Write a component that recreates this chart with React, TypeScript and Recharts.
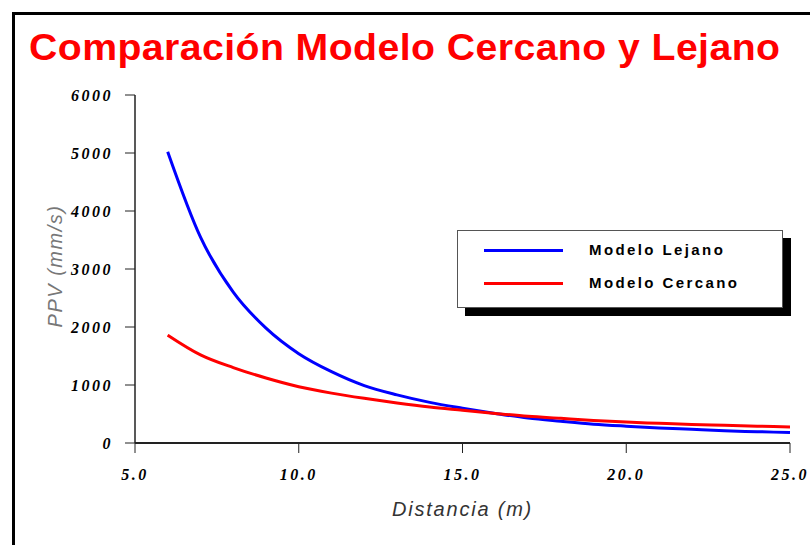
import React from "react";
import { LineChart, Line, XAxis, YAxis, Legend } from "recharts";

// distances (m) and PPV (mm/s)
const distancias = [6, 7, 8, 9, 10, 11, 12, 13, 14, 15, 16, 17, 18, 19, 20, 21, 22, 23, 24, 25];
const ppvLejano = [5020, 3550, 2600, 1980, 1540, 1230, 990, 830, 700, 600, 510, 430, 375, 325, 290, 260, 235, 210, 195, 180];
const ppvCercano = [1860, 1520, 1300, 1120, 970, 860, 770, 690, 620, 565, 510, 460, 425, 390, 360, 340, 320, 305, 290, 275];

const seriesOrder = ["Modelo Lejano", "Modelo Cercano"];
const xTicks = [5, 10, 15, 20, 25];
const yTicks = [0, 1000, 2000, 3000, 4000, 5000, 6000];

const data = distancias.map((d, i) => ({
  d,
  lejano: ppvLejano[i],
  cercano: ppvCercano[i],
}));

const tickFont = {
  fontFamily: "'Liberation Serif', serif",
  fontStyle: "italic",
  fontWeight: 700,
  fontSize: 16,
  letterSpacing: 2.5,
  fill: "#000",
};

const LegendBox = ({ payload }: any) => {
  const items = [...(payload || [])].sort(
    (a: any, b: any) => seriesOrder.indexOf(a.value) - seriesOrder.indexOf(b.value)
  );
  return (
    <div style={{ position: "relative", width: 326, height: 78 }}>
      <div
        style={{
          position: "absolute",
          left: 8,
          top: 8,
          width: 326,
          height: 78,
          background: "#000",
        }}
      />
      <div
        style={{
          position: "absolute",
          left: 0,
          top: 0,
          width: 324,
          height: 76,
          background: "#fff",
          border: "1px solid #555",
        }}
      >
        {items.map((p: any, i: number) => (
          <div
            key={p.value}
            style={{
              position: "absolute",
              left: 26,
              top: 9 + i * 33,
              display: "flex",
              alignItems: "center",
            }}
          >
            <div style={{ width: 79, height: 3, background: p.color }} />
            <span
              style={{
                marginLeft: 26,
                fontFamily: "'Liberation Sans', Arial, sans-serif",
                fontWeight: 700,
                fontSize: 15,
                letterSpacing: 2.4,
                color: "#000",
                lineHeight: "20px",
              }}
            >
              {p.value}
            </span>
          </div>
        ))}
      </div>
    </div>
  );
};

export default function App() {
  return (
    <div
      style={{
        position: "absolute",
        left: 0,
        top: 0,
        width: 810,
        height: 545,
        background: "#fff",
        overflow: "hidden",
      }}
    >
      {/* outer frame, only top and left edges show in the crop */}
      <div
        style={{
          position: "absolute",
          left: 12,
          top: 12,
          width: 820,
          height: 560,
          borderTop: "3px solid #000",
          borderLeft: "3px solid #000",
        }}
      />
      <div
        style={{
          position: "absolute",
          left: 29,
          top: 27,
          color: "#ff0000",
          fontFamily: "'Liberation Sans', Arial, sans-serif",
          fontWeight: 700,
          fontSize: 37,
          letterSpacing: 0.4,
          whiteSpace: "nowrap",
          transform: "scaleX(1.06)",
          transformOrigin: "left top",
        }}
      >
        Comparación Modelo Cercano y Lejano
      </div>
      <div style={{ position: "absolute", left: 0, top: 0 }}>
        <LineChart
          width={810}
          height={545}
          data={data}
          margin={{ top: 95, right: 20, bottom: 42, left: 55 }}
        >
          <XAxis
            dataKey="d"
            type="number"
            domain={[5, 25]}
            ticks={xTicks}
            tickFormatter={(v: number) => v.toFixed(1)}
            height={60}
            stroke="#222"
            strokeWidth={2}
            tickSize={10}
            tickMargin={16}
            tickLine={{ stroke: "#222", strokeWidth: 1 }}
            tick={tickFont}
            label={({ viewBox }: any) => (
              <text
                x={viewBox.x + viewBox.width / 2}
                y={516}
                textAnchor="middle"
                fontFamily="'Liberation Sans', Arial, sans-serif"
                fontStyle="italic"
                fontSize={20}
                letterSpacing={1.8}
                fill="#333"
              >
                Distancia (m)
              </text>
            )}
          />
          <YAxis
            type="number"
            domain={[0, 6000]}
            ticks={yTicks}
            width={80}
            stroke="#222"
            strokeWidth={1.5}
            tickSize={10}
            tickMargin={12}
            tickLine={{ stroke: "#222", strokeWidth: 1 }}
            tick={tickFont}
            label={({ viewBox }: any) => (
              <text
                x={55}
                y={viewBox.y + viewBox.height / 2 - 3}
                transform={`rotate(-90, 55, ${viewBox.y + viewBox.height / 2 - 3})`}
                textAnchor="middle"
                dominantBaseline="central"
                fontFamily="'Liberation Sans', Arial, sans-serif"
                fontStyle="italic"
                fontSize={20}
                letterSpacing={1.5}
                fill="#777"
              >
                PPV (mm/s)
              </text>
            )}
          />
          <Legend
            layout="vertical"
            verticalAlign="middle"
            align="center"
            wrapperStyle={{ left: 457, top: 230, width: 340 }}
            content={LegendBox}
          />
          <Line
            dataKey="lejano"
            name="Modelo Lejano"
            stroke="#0000ff"
            strokeWidth={3}
            dot={false}
            type="monotone"
            isAnimationActive={false}
          />
          <Line
            dataKey="cercano"
            name="Modelo Cercano"
            stroke="#ff0000"
            strokeWidth={3}
            dot={false}
            type="monotone"
            isAnimationActive={false}
          />
        </LineChart>
      </div>
    </div>
  );
}
